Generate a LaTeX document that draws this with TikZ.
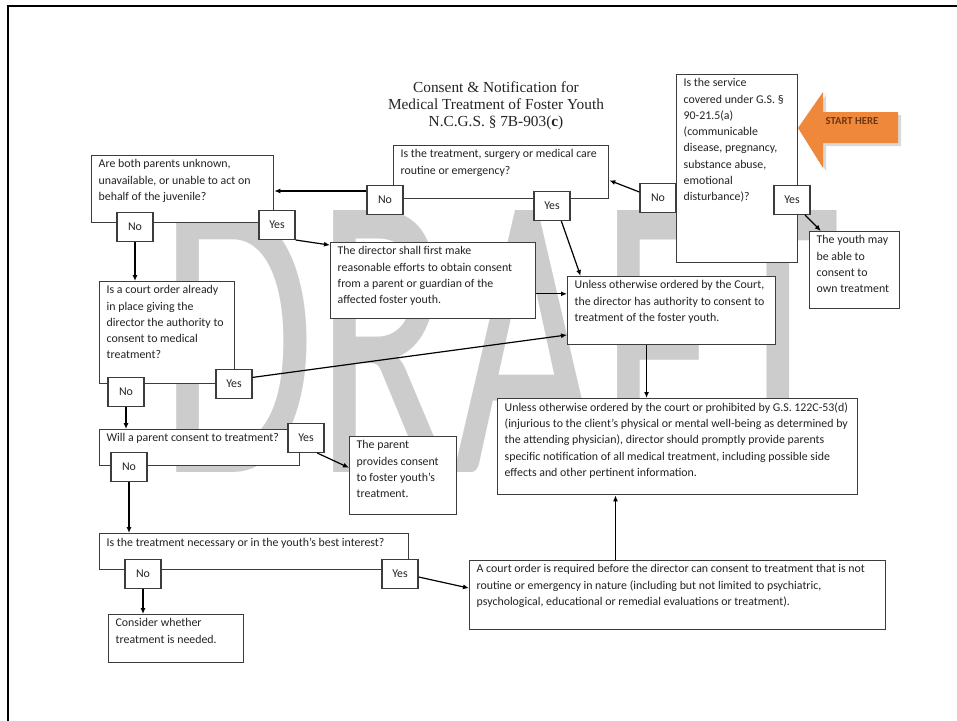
\documentclass[tikz,border=0pt]{standalone}
\usepackage{fontspec}
\setmainfont{Carlito}
\newfontfamily\titlefont{Liberation Serif}
\usetikzlibrary{arrows.meta,calc}
\newdimen\pxu \pxu=0.75pt
\definecolor{boxc}{RGB}{60,60,60}
\definecolor{textc}{RGB}{35,35,35}
\definecolor{startorange}{RGB}{240,136,60}
\definecolor{starttext}{RGB}{105,55,20}
\definecolor{wmgray}{RGB}{204,204,204}
\newcommand\tbox[6]{\node[bx] (#1) at (#2,#3) {\begin{minipage}[t][\dimexpr#5\pxu-8\pxu\relax][t]{\dimexpr#4\pxu-14\pxu\relax}\raggedright #6\end{minipage}};}
\begin{document}
\begin{tikzpicture}[x=0.75pt,y=-0.75pt,
  bx/.style={draw=boxc, fill=white, line width=1pt, anchor=north west,
    inner xsep=5.25pt, inner ysep=3pt, text=textc,
    font=\fontsize{8.9pt}{12.2pt}\selectfont},
  yn/.style={draw=boxc, fill=white, line width=1pt, minimum width=27pt,
    minimum height=21.5pt, inner sep=0pt, text=textc,
    font=\fontsize{8.9pt}{10pt}\selectfont},
  arr/.style={draw=black, line width=0.9pt, -{Latex[length=4.5pt,width=3.8pt]}},
  ttl/.style={align=center, text=textc, font=\titlefont\fontsize{11.5pt}{12.9pt}\selectfont},
  wm/.style={inner sep=0pt, text=wmgray, font=\fontsize{100pt}{100pt}\selectfont}
]
\useasboundingbox (0,0) rectangle (957,721);
% page frame
\draw[line width=2pt] (8,721) -- (8,6) -- (957,6);
% watermark
\node[wm] (draft) at (500,341) {\resizebox{680\pxu}{262\pxu}{DRAFT}};
% title
\node[ttl] (title) at (496,106) {Consent \& Notification for\\Medical Treatment of Foster Youth\\N.C.G.S. § 7B-903(\textbf{c})};
% start here arrow
\fill[gray!30] (801,131) -- (826,95) -- (826,115) -- (901,115) -- (901,146) -- (826,146) -- (826,171) -- cycle;
\fill[startorange] (798,128) -- (823,92) -- (823,112) -- (898,112) -- (898,143) -- (823,143) -- (823,168) -- cycle;
\node[text=starttext, font=\bfseries\fontsize{8pt}{9pt}\selectfont] (start) at (852,121) {START HERE};
% main boxes
\tbox{A}{676}{74}{121}{188}{Is the service\\covered under G.S. §\\90-21.5(a)\\(communicable\\disease, pregnancy,\\substance abuse,\\emotional\\disturbance)?}
\tbox{B}{393}{145}{215}{53}{Is the treatment, surgery or medical care\\routine or emergency?}
\tbox{C}{91}{155}{182}{67}{Are both parents unknown,\\unavailable, or unable to act on\\behalf of the juvenile?}
\tbox{D}{330}{242}{205}{76}{The director shall first make\\reasonable efforts to obtain consent\\from a parent or guardian of the\\affected foster youth.}
\tbox{E}{567}{276}{208}{68}{Unless otherwise ordered by the Court,\\the director has authority to consent to\\treatment of the foster youth.}
\tbox{Y}{809}{231}{90}{77}{The youth may\\be able to\\consent to\\own treatment}
\tbox{F}{99}{281}{135}{102}{Is a court order already\\in place giving the\\director the authority to\\consent to medical\\treatment?}
\tbox{G}{99}{429}{200}{36}{Will a parent consent to treatment?}
\tbox{H}{349}{436}{107}{78}{The parent\\provides consent\\to foster youth’s\\treatment.}
\tbox{I}{497}{398}{360}{96}{Unless otherwise ordered by the court or prohibited by G.S. 122C-53(d)\\(injurious to the client’s physical or mental well-being as determined by\\the attending physician), director should promptly provide parents\\specific notification of all medical treatment, including possible side\\effects and other pertinent information.}
\tbox{J}{99}{533}{309}{36}{Is the treatment necessary or in the youth’s best interest?}
\tbox{K}{108}{614}{135}{48}{Consider whether\\treatment is needed.}
\tbox{L}{469}{560}{416}{69}{A court order is required before the director can consent to treatment that is not\\routine or emergency in nature (including but not limited to psychiatric,\\psychological, educational or remedial evaluations or treatment).}
% yes / no boxes
\node[yn] (NoA) at (658,198) {No};
\node[yn] (YesA) at (792,200) {Yes};
\node[yn] (NoB) at (385,200) {No};
\node[yn] (YesB) at (552,206) {Yes};
\node[yn] (NoC) at (135,227) {No};
\node[yn] (YesC) at (277,225) {Yes};
\node[yn] (NoF) at (126,392) {No};
\node[yn] (YesF) at (234,384) {Yes};
\node[yn] (YesG) at (306,438) {Yes};
\node[yn] (NoG) at (129,467) {No};
\node[yn] (YesJ) at (400,574) {Yes};
\node[yn] (NoJ) at (143,574) {No};
% connectors
\draw[arr] ($(NoA.north west)!0.3!(NoA.south west)$) -- ($(B.north east)!0.65!(B.south east)$);
\draw[arr] ($(YesA.south west)!0.85!(YesA.south east)$) -- ($(Y.north west)!0.13!(Y.north east)$);
\coordinate (nb) at ($(NoB.north west)!0.2!(NoB.south west)$);
\draw[arr] (nb) -- (nb -| C.east);
\draw[arr] ($(YesB.south west)!0.75!(YesB.south east)$) -- ($(E.north west)!0.065!(E.north east)$);
\draw[arr] (YesC.south east) -- ($(D.north west)!0.04!(D.south west)$);
\draw[arr] (NoC.south) -- (NoC.south |- F.north);
\coordinate (de) at ($(D.north east)!0.67!(D.south east)$);
\draw[arr] (de) -- (de -| E.west);
\draw[arr] ($(YesF.north east)!0.28!(YesF.south east)$) -- ($(E.north west)!0.85!(E.south west)$);
\draw[arr] (NoF.south) -- (NoF.south |- G.north);
\coordinate (ei) at ($(E.south west)!0.38!(E.south east)$);
\draw[arr] (ei) -- (ei |- I.north);
\draw[arr] ($(YesG.south west)!0.8!(YesG.south east)$) -- ($(H.north west)!0.4!(H.south west)$);
\draw[arr] (NoG.south) -- (NoG.south |- J.north);
\draw[arr] ($(YesJ.north east)!0.6!(YesJ.south east)$) -- ($(L.north west)!0.4!(L.south west)$);
\draw[arr] (NoJ.south) -- (NoJ.south |- K.north);
\coordinate (li) at ($(L.north west)!0.351!(L.north east)$);
\draw[arr] (li) -- (li |- I.south);
\end{tikzpicture}
\end{document}
